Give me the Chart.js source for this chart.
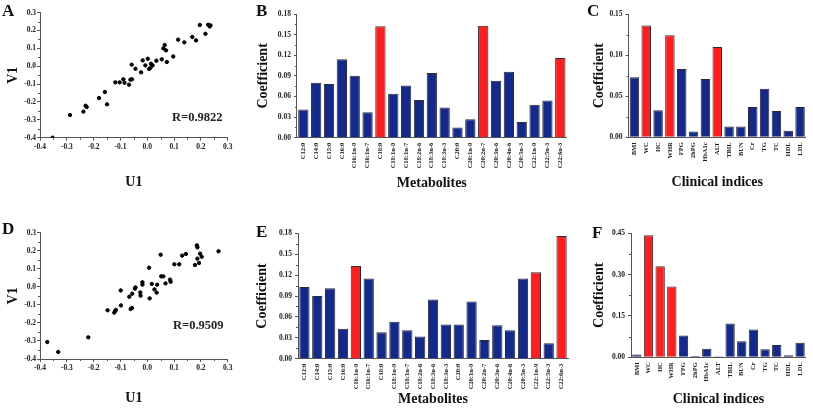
<!DOCTYPE html>
<html>
<head>
<meta charset="utf-8">
<script src="https://cdn.jsdelivr.net/npm/chart.js@4"></script>
<style>
  html, body { margin: 0; padding: 0; background: #fff; }
  #fig { position: relative; width: 813px; height: 408px; overflow: hidden; background: #fff; }
  #fig canvas { position: absolute; }
  .lab { position: absolute; font: bold 17px "Liberation Serif", serif; line-height: 17px; color: #111; }
  .rtxt { position: absolute; font: bold 12.5px "Liberation Serif", serif; line-height: 13px; color: #222; }
</style>
</head>
<body>
<div id="fig">
  <canvas id="cA" width="240" height="204" style="left:0;top:0"></canvas>
  <canvas id="cB" width="335" height="204" style="left:240px;top:0"></canvas>
  <canvas id="cC" width="238" height="204" style="left:575px;top:0"></canvas>
  <canvas id="cD" width="240" height="204" style="left:0;top:204px"></canvas>
  <canvas id="cE" width="335" height="204" style="left:240px;top:204px"></canvas>
  <canvas id="cF" width="238" height="204" style="left:575px;top:204px"></canvas>
  <div class="lab" style="left:2px;top:2px">A</div>
  <div class="lab" style="left:256px;top:2px">B</div>
  <div class="lab" style="left:587px;top:2px">C</div>
  <div class="lab" style="left:2px;top:220px">D</div>
  <div class="lab" style="left:256px;top:223px">E</div>
  <div class="lab" style="left:592px;top:224px">F</div>
  <div class="rtxt" style="left:172px;top:111px">R=0.9822</div>
  <div class="rtxt" style="left:173px;top:319px">R=0.9509</div>
</div>
<script>
// panel A / D: canonical variates (U1 vs V1)
const uA = [-0.353, -0.288, -0.238, -0.230, -0.226, -0.180, -0.158, -0.150, -0.119, -0.103, -0.089, -0.085, -0.068, -0.063, -0.057, -0.058, -0.044, -0.023, -0.017, -0.007, 0.002, 0.007, 0.012, 0.014, 0.020, 0.034, 0.054, 0.060, 0.065, 0.070, 0.073, 0.097, 0.115, 0.138, 0.168, 0.182, 0.196, 0.217, 0.227, 0.233, 0.236];
const vA = [-0.400, -0.273, -0.254, -0.221, -0.228, -0.178, -0.144, -0.213, -0.090, -0.090, -0.073, -0.092, -0.103, -0.075, -0.073, 0.009, -0.014, -0.034, 0.033, 0.005, 0.042, -0.015, -0.008, 0.014, 0.005, 0.031, 0.039, 0.100, 0.119, 0.089, 0.024, 0.055, 0.149, 0.134, 0.164, 0.145, 0.231, 0.182, 0.233, 0.223, 0.229];
const uD = [-0.373, -0.332, -0.220, -0.148, -0.123, -0.120, -0.117, -0.099, -0.098, -0.067, -0.062, -0.057, -0.056, -0.046, -0.044, -0.026, -0.025, -0.018, -0.018, 0.007, 0.009, 0.017, 0.027, 0.035, 0.037, 0.050, 0.052, 0.060, 0.068, 0.085, 0.087, 0.101, 0.119, 0.130, 0.144, 0.178, 0.185, 0.187, 0.187, 0.193, 0.197, 0.203, 0.266];
const vD = [-0.306, -0.361, -0.280, -0.130, -0.143, -0.134, -0.128, -0.020, -0.103, -0.055, -0.123, -0.117, -0.038, -0.010, -0.003, -0.031, -0.049, 0.025, 0.012, 0.106, -0.064, 0.016, -0.014, -0.032, 0.012, 0.178, 0.058, 0.058, 0.019, 0.040, 0.028, 0.125, 0.125, 0.173, 0.182, 0.121, 0.230, 0.219, 0.156, 0.132, 0.184, 0.167, 0.197];
const scatterTicks = [-0.4, -0.3, -0.2, -0.1, 0.0, 0.1, 0.2, 0.3];

// panel B / E: metabolites
const metabolites = ['C12:0','C14:0','C15:0','C16:0','C16:1n-9','C16:1n-7','C18:0','C18:1n-9','C18:1n-7','C18:2n-6','C18:3n-6','C18:3n-3','C20:0','C20:1n-9','C20:2n-7','C20:3n-6','C20:4n-6','C20:5n-3','C22:1n-9','C22:5n-3','C22:6n-3'];
const coefB = [0.041, 0.080, 0.078, 0.114, 0.090, 0.037, 0.162, 0.064, 0.076, 0.055, 0.094, 0.044, 0.015, 0.027, 0.163, 0.083, 0.096, 0.023, 0.048, 0.054, 0.116];
const redB = ['C18:0', 'C20:2n-7', 'C22:6n-3'];
const coefE = [0.103, 0.090, 0.101, 0.043, 0.133, 0.115, 0.038, 0.053, 0.041, 0.032, 0.085, 0.049, 0.049, 0.082, 0.027, 0.048, 0.041, 0.115, 0.124, 0.022, 0.176];
const redE = ['C16:1n-9', 'C22:1n-9', 'C22:6n-3'];
const metTicks = [0, 0.03, 0.06, 0.09, 0.12, 0.15, 0.18];

// panel C / F: clinical indices
const clinical = ['BMI','WC','HC','WHR','FPG','2hPG','HbA1c','ALT','TBIL','BUN','Cr','TG','TC','HDL','LDL'];
const coefC = [0.073, 0.136, 0.033, 0.124, 0.083, 0.007, 0.071, 0.110, 0.013, 0.013, 0.037, 0.059, 0.032, 0.008, 0.037];
const redC = ['WC', 'WHR', 'ALT'];
const coefF = [0.010, 0.443, 0.330, 0.257, 0.079, 0.005, 0.031, 0.004, 0.123, 0.058, 0.101, 0.029, 0.045, 0.007, 0.053];
const redF = ['WC', 'HC', 'WHR'];
const clinTicksC = [0, 0.05, 0.10, 0.15];
const clinTicksF = [0, 0.15, 0.30, 0.45];

const BLUE = '#132a8c';
const RED = '#ff1e1e';
const AXIS = '#555';
const TXT = '#222';
const SERIF = '"Liberation Serif", "Times New Roman", serif';

// short minor ticks halfway between labelled ticks
const minorTicks = {
  id: 'minorTicks',
  afterDraw(chart, args, opts) {
    const ctx = chart.ctx;
    ctx.save();
    ctx.strokeStyle = AXIS;
    ctx.lineWidth = 1;
    (opts.axes || []).forEach(id => {
      const s = chart.scales[id];
      const t = s.ticks;
      for (let i = 0; i < t.length - 1; i++) {
        const p = Math.round(s.getPixelForValue((t[i].value + t[i + 1].value) / 2)) + 0.5;
        ctx.beginPath();
        if (s.isHorizontal()) { ctx.moveTo(p, s.top); ctx.lineTo(p, s.top + 2); }
        else { ctx.moveTo(s.right, p); ctx.lineTo(s.right - 2, p); }
        ctx.stroke();
      }
    });
    ctx.restore();
  }
};

function fixedTicks(list) {
  // force tick values to the ones
  return scale => { scale.ticks = list.map(v => ({ value: v })); };
}

function titleOpt(text, pad) {
  return { display: true, text: text, color: '#111', font: { family: SERIF, size: 14, weight: 'bold' }, padding: pad };
}

function tickFont(size) {
  return { family: SERIF, size: size, weight: 'bold' };
}

function makeScatter(id, us, vs, lay) {
  new Chart(document.getElementById(id), {
    type: 'scatter',
    data: { datasets: [{ data: us.map((u, i) => ({ x: u, y: vs[i] })), backgroundColor: '#000', borderColor: '#000', pointRadius: 1.7, pointHoverRadius: 1.7 }] },
    options: {
      responsive: false, animation: false, devicePixelRatio: 1,
      layout: { padding: { top: lay.top, right: lay.right, left: 0, bottom: 0 } },
      plugins: { legend: { display: false }, tooltip: { enabled: false }, minorTicks: { axes: ['x', 'y'] } },
      scales: {
        x: {
          min: -0.4, max: 0.3,
          afterBuildTicks: fixedTicks(scatterTicks),
          afterFit: s => { s.height = lay.xh; },
          border: { display: true, color: AXIS, width: 1 },
          grid: { drawOnChartArea: false, drawTicks: true, tickLength: 3, color: AXIS },
          ticks: { color: TXT, font: tickFont(7.5), padding: 2, maxRotation: 0, autoSkip: false,
                   callback: v => (Math.abs(v) < 1e-9 ? 0 : v).toFixed(1) },
          title: titleOpt('U1', { top: 0, bottom: lay.xt })
        },
        y: {
          min: -0.4, max: 0.3,
          afterBuildTicks: fixedTicks(scatterTicks),
          afterFit: s => { s.width = lay.yw; },
          border: { display: true, color: AXIS, width: 1 },
          grid: { drawOnChartArea: false, drawTicks: true, tickLength: 3, color: AXIS },
          ticks: { color: TXT, font: tickFont(7.5), padding: 1, autoSkip: false,
                   callback: v => (Math.abs(v) < 1e-9 ? 0 : v).toFixed(1) },
          title: titleOpt('V1', { top: lay.yt, bottom: 0 })
        }
      }
    },
    plugins: [minorTicks]
  });
}

function makeBars(id, cats, vals, reds, yMax, yTicks, xTitle, lay) {
  new Chart(document.getElementById(id), {
    type: 'bar',
    data: {
      labels: cats,
      datasets: [{
        data: vals,
        backgroundColor: cats.map(c => reds.includes(c) ? RED : BLUE),
        borderColor: '#2a2a3a', borderWidth: 1,
        barPercentage: 0.8, categoryPercentage: 1.0
      }]
    },
    options: {
      responsive: false, animation: false, devicePixelRatio: 1,
      layout: { padding: { top: lay.top, right: lay.right, left: 0, bottom: 0 } },
      plugins: { legend: { display: false }, tooltip: { enabled: false }, minorTicks: { axes: ['y'] } },
      scales: {
        x: {
          afterFit: s => { s.height = lay.xh; },
          border: { display: true, color: AXIS, width: 1 },
          grid: { display: false, drawTicks: false, tickLength: 0 },
          ticks: { color: TXT, font: tickFont(6.5), padding: 5, autoSkip: false, minRotation: 90, maxRotation: 90 },
          title: titleOpt(xTitle, { top: 0, bottom: lay.xt })
        },
        y: {
          min: 0, max: yMax,
          afterBuildTicks: fixedTicks(yTicks),
          afterFit: s => { s.width = lay.yw; },
          border: { display: true, color: AXIS, width: 1 },
          grid: { drawOnChartArea: false, drawTicks: true, tickLength: 3, color: AXIS },
          ticks: { color: TXT, font: tickFont(7.5), padding: 3, autoSkip: false, callback: v => v.toFixed(2) },
          title: titleOpt('Coefficient', { top: lay.yt, bottom: 0 })
        }
      }
    },
    plugins: [minorTicks]
  });
}

makeScatter('cA', uA, vA, { top: 12.7, right: 12.3, xh: 66.3, yw: 40, xt: 13.6, yt: 5 });
makeScatter('cD', uD, vD, { top: 28.7, right: 12.3, xh: 49, yw: 40, xt: 1.6, yt: 5 });
makeBars('cB', metabolites, coefB, redB, 0.18, metTicks, 'Metabolites', { top: 14, right: 8.3, xh: 66.3, yw: 56.9, xt: 12.6, yt: 14.6 });
makeBars('cE', metabolites, coefE, redE, 0.18, metTicks, 'Metabolites', { top: 29.3, right: 7, xh: 49.3, yw: 58, xt: 0.6, yt: 14.1 });
makeBars('cC', clinical, coefC, redC, 0.15, clinTicksC, 'Clinical indices', { top: 14, right: 4, xh: 66.7, yw: 53.5, xt: 13.6, yt: 15.6 });
makeBars('cF', clinical, coefF, redF, 0.45, clinTicksF, 'Clinical indices', { top: 29.3, right: 4, xh: 50.7, yw: 56, xt: 0.3, yt: 15.6 });
</script>
</body>
</html>
